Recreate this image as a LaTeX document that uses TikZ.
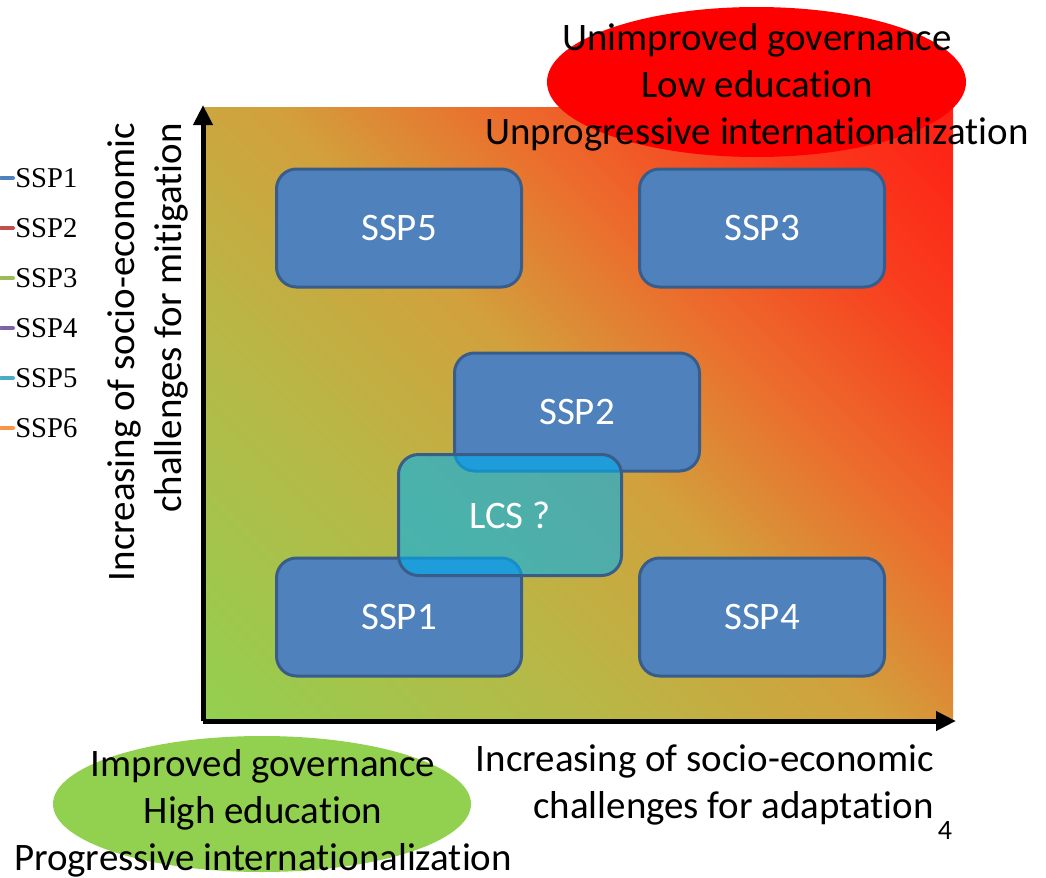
\documentclass[tikz,border=0pt]{standalone}
\usepackage{fontspec}
\setmainfont{Carlito}[Ligatures={NoCommon}]
\newfontfamily\legfont{Liberation Serif}
\usetikzlibrary{arrows.meta}

\definecolor{sgreen}{RGB}{146,208,80}
\definecolor{sgoldA}{RGB}{186,182,70}
\definecolor{sgold}{RGB}{210,160,60}
\definecolor{sorange}{RGB}{235,110,45}
\definecolor{sred}{RGB}{248,62,30}
\definecolor{sredB}{RGB}{255,30,20}
\definecolor{boxfill}{RGB}{79,129,189}
\definecolor{boxline}{RGB}{56,93,138}
\definecolor{lcsfill}{RGB}{0,176,240}
\definecolor{sspA}{RGB}{79,129,189}
\definecolor{sspB}{RGB}{192,80,77}
\definecolor{sspC}{RGB}{155,187,89}
\definecolor{sspD}{RGB}{128,100,162}
\definecolor{sspE}{RGB}{75,172,198}
\definecolor{sspF}{RGB}{247,150,70}

\pgfdeclarehorizontalshading{sspgrad}{100bp}{color(0bp)=(sgreen); color(14.6bp)=(sgreen); color(36.5bp)=(sgoldA); color(50bp)=(sgold); color(61.3bp)=(sorange); color(73.4bp)=(sred); color(85.4bp)=(sredB); color(100bp)=(sredB)}

\newcommand\slidefont{\fontsize{29.2}{35.25}\selectfont}

\begin{document}
\begin{tikzpicture}[x=0.75pt, y=-0.75pt,
    sspbox/.style={draw=boxline, fill=boxfill, line width=2.25pt, rounded corners=15pt,
        minimum width=183.75pt, minimum height=88.5pt, text=white, font=\slidefont},
    lcsbox/.style={sspbox, fill=lcsfill, fill opacity=0.6, text opacity=1,
        minimum width=167.25pt, minimum height=90.75pt},
    axis/.style={line width=3.75pt, -{Triangle[length=15pt,width=14pt]}},
    legtext/.style={anchor=west, inner sep=0pt, font=\legfont\fontsize{21.5}{24}\selectfont},
    legline/.style={line width=3pt, line cap=round}]
    \useasboundingbox (0,0) rectangle (1046,878);

    % ellipses
    \fill[sgreen] (262,804) ellipse [x radius=209, y radius=68];

    % gradient square
    \shade[shading=sspgrad, shading angle=45] (203,107) rectangle (953,721);
    \fill[red] (756.5,82) ellipse [x radius=209.5, y radius=75];

    % axes
    \coordinate (origin) at (203,721);
    \coordinate (ytop) at (203,105);
    \coordinate (xend) at (956,721);
    \draw[axis] (origin) -- (ytop);
    \draw[axis] (origin) -- (xend);

    % boxes
    \node[sspbox] (ssp5) at (399,228) {SSP5};
    \node[sspbox] (ssp3) at (762,228) {SSP3};
    \node[sspbox] (ssp2) at (577,412) {SSP2};
    \node[sspbox] (ssp1) at (399,617) {SSP1};
    \node[sspbox] (ssp4) at (762,617) {SSP4};
    \node[lcsbox] (lcs) at (510,515) {LCS ?};

    % texts
    \node[align=center, inner sep=0pt, font=\slidefont] (badcase) at (757,87)
        {Unimproved governance\\Low education\\Unprogressive internationalization};
    \node[align=center, inner sep=0pt, font=\slidefont] (goodcase) at (263,813)
        {Improved governance\\High education\\Progressive internationalization};
    \node[rotate=90, anchor=east, align=right, inner sep=0pt, font=\slidefont] (ylabel) at (148,123)
        {Increasing of socio-economic\\challenges for mitigation};
    \node[anchor=east, align=right, inner sep=0pt, font=\slidefont] (xlabel) at (934,785)
        {Increasing of socio-economic\\challenges for adaptation};
    \node[inner sep=0pt, font=\fontsize{21}{24}\selectfont] (pagenum) at (945,831) {4};

    % legend
    \node[legtext] (leg1) at (15,178) {SSP1};
    \node[legtext] (leg2) at (15,228) {SSP2};
    \node[legtext] (leg3) at (15,278) {SSP3};
    \node[legtext] (leg4) at (15,328) {SSP4};
    \node[legtext] (leg5) at (15,378) {SSP5};
    \node[legtext] (leg6) at (15,428) {SSP6};
    \draw[legline, sspA] (leg1.west) ++(-14,0) -- ++(12,0);
    \draw[legline, sspB] (leg2.west) ++(-14,0) -- ++(12,0);
    \draw[legline, sspC] (leg3.west) ++(-14,0) -- ++(12,0);
    \draw[legline, sspD] (leg4.west) ++(-14,0) -- ++(12,0);
    \draw[legline, sspE] (leg5.west) ++(-14,0) -- ++(12,0);
    \draw[legline, sspF] (leg6.west) ++(-14,0) -- ++(12,0);
\end{tikzpicture}
\end{document}
